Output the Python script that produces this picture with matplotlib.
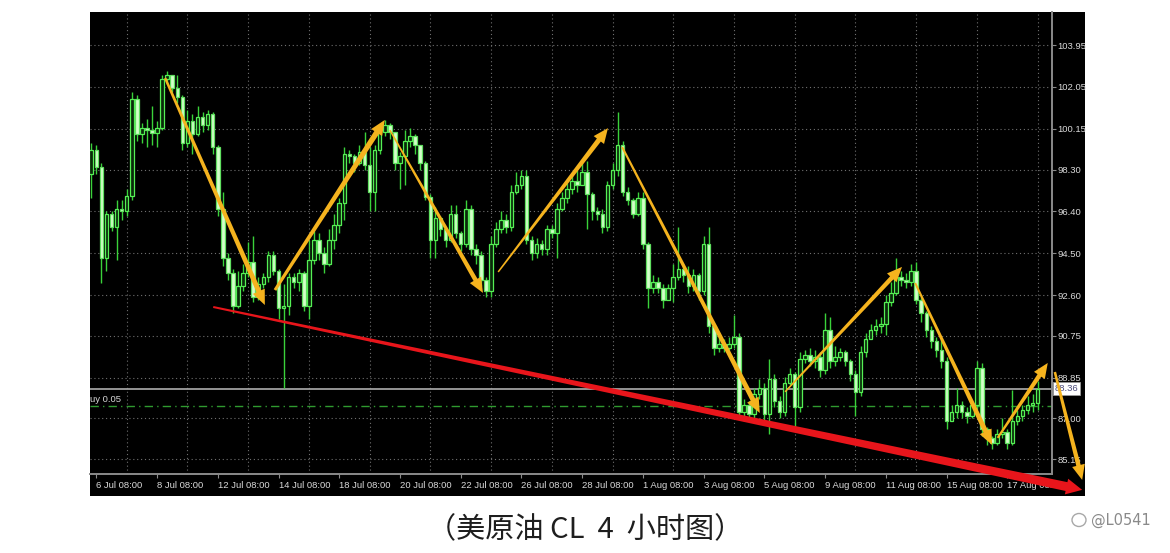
import matplotlib
matplotlib.use('Agg')
import matplotlib.pyplot as plt
import numpy as np
from matplotlib.patches import Polygon, Rectangle, Ellipse
from matplotlib.transforms import IdentityTransform

W, H = 1170, 553

# CL 4h candles, bar 0 = 6 Jul 04:00, open of bar n = close of bar n-1
first_open = 98.1
close = [99.2, 98.4, 94.3, 96.3, 95.7, 96.5, 96.4, 97.1, 101.5, 99.9,
         100.2, 100.1, 99.95, 100.2, 102.4, 102.6, 102.0, 101.6, 99.5, 100.5,
         99.9, 100.7, 100.3, 100.8, 99.3, 96.5, 94.3, 93.6, 92.1, 93.0,
         93.6, 94.1, 92.5, 93.1, 93.4, 94.4, 93.7, 92.0, 92.1, 93.4,
         93.2, 93.6, 92.1, 94.2, 95.1, 94.5, 94.0, 95.1, 95.8, 96.8,
         99.0, 98.9, 98.6, 99.1, 98.5, 97.3, 99.2, 100.0, 100.3, 100.0,
         98.6, 98.9, 99.6, 99.8, 99.4, 98.6, 97.05, 95.1, 96.1, 95.6,
         95.1, 96.3, 95.4, 94.9, 96.5, 94.7, 94.4, 93.3, 92.8, 94.9,
         95.6, 96.0, 95.7, 97.3, 97.6, 98.0, 95.1, 94.5, 94.9, 94.7,
         95.6, 95.4, 96.5, 97.0, 97.4, 97.8, 97.6, 98.2, 97.2, 96.4,
         96.3, 95.7, 97.6, 98.3, 99.4, 97.3, 96.9, 96.3, 97.0, 94.9,
         92.9, 93.2, 92.9, 92.4, 92.9, 93.4, 93.8, 93.5, 93.0, 93.5,
         92.8, 94.9, 91.2, 90.2, 90.4, 90.2, 90.4, 90.7, 87.3, 87.6,
         87.2, 88.1, 88.4, 87.2, 88.8, 87.8, 87.3, 88.6, 89.0, 87.5,
         89.7, 89.9, 89.6, 89.8, 89.2, 91.0, 89.6, 89.8, 90.0, 89.6,
         89.0, 88.2, 90.0, 90.6, 91.0, 91.2, 91.3, 92.3, 92.7, 93.4,
         93.3, 93.2, 93.7, 92.4, 91.8, 91.0, 90.5, 90.1, 89.6, 86.9,
         87.3, 87.6, 87.3, 87.1, 87.6, 89.3, 86.5, 86.1, 85.9, 86.3,
         86.4, 85.9, 86.9, 87.1, 87.4, 87.6, 87.7, 88.36]
high = [99.5, 99.4, 98.6, 96.4, 96.4, 96.9, 96.9, 97.4, 101.8, 101.7,
        100.4, 100.6, 101.2, 100.5, 102.6, 102.75, 102.4, 102.6, 101.7, 101.0,
        100.8, 101.2, 100.9, 101.0, 100.9, 99.4, 97.3, 94.5, 93.8, 93.7,
        94.0, 95.0, 95.3, 93.4, 93.6, 94.6, 94.6, 93.8, 93.1, 93.6,
        93.6, 93.8, 93.7, 95.1, 95.5, 95.4, 94.8, 95.6, 96.3, 97.0,
        99.3, 99.2, 99.0, 99.4, 100.0, 99.3, 99.4, 100.3, 100.55, 100.4,
        99.9, 99.1, 100.1, 100.2, 99.9, 99.4, 98.7, 97.2, 96.6, 96.2,
        95.7, 96.7, 96.7, 95.5, 96.9, 96.7, 94.9, 94.6, 93.4, 95.3,
        95.9, 96.4, 96.3, 97.6, 98.2, 98.3, 98.3, 95.3, 95.2, 95.1,
        95.8, 95.8, 96.8, 97.3, 97.7, 98.1, 98.3, 98.6, 98.7, 97.3,
        96.6, 96.5, 97.8, 98.6, 100.9, 99.6, 97.5, 97.0, 97.3, 97.3,
        95.0, 93.5, 93.4, 93.1, 93.1, 94.0, 95.7, 94.0, 93.9, 93.8,
        93.6, 95.3, 95.7, 91.3, 90.8, 90.6, 90.7, 91.7, 90.9, 87.9,
        87.8, 88.4, 88.8, 88.6, 89.7, 89.0, 88.0, 88.9, 89.3, 89.1,
        90.0, 90.1, 90.2, 90.1, 90.0, 91.8, 91.6, 90.3, 90.2, 90.1,
        89.7, 89.2, 90.3, 90.9, 91.3, 91.5, 91.6, 92.6, 93.2, 94.3,
        93.7, 93.6, 94.0, 94.1, 92.6, 91.9, 91.2, 90.7, 90.6, 89.8,
        87.6, 88.4, 87.8, 87.5, 87.8, 89.6, 89.5, 86.6, 86.2, 86.5,
        87.0, 86.5, 88.3, 87.4, 87.6, 88.0, 88.1, 88.7]
low = [97.0, 98.1, 93.15, 93.7, 95.5, 94.2, 96.0, 96.2, 96.9, 99.6,
       99.5, 99.3, 99.4, 99.3, 100.1, 102.2, 101.8, 101.3, 99.2, 99.3,
       99.0, 99.8, 100.0, 100.1, 99.0, 96.2, 93.9, 93.3, 91.8, 92.0,
       92.8, 93.4, 92.3, 92.4, 92.9, 93.2, 93.5, 91.5, 88.4, 91.7,
       92.9, 92.8, 91.9, 91.5, 94.0, 94.2, 93.6, 93.9, 94.7, 95.4,
       96.0, 98.6, 98.2, 98.5, 98.3, 96.4, 96.4, 99.0, 99.8, 99.7,
       98.3, 97.4, 97.6, 99.3, 99.0, 98.3, 96.9, 94.3, 94.3, 95.3,
       94.8, 95.0, 95.2, 94.6, 94.8, 94.4, 94.0, 93.0, 92.5, 92.5,
       94.8, 95.4, 95.4, 95.5, 97.2, 97.4, 94.9, 94.2, 94.3, 94.4,
       94.4, 95.2, 94.3, 96.4, 96.8, 97.2, 97.3, 97.7, 95.6, 96.0,
       96.0, 95.4, 95.5, 97.4, 98.0, 97.1, 96.7, 96.1, 96.2, 94.7,
       92.0, 92.7, 92.7, 92.0, 92.5, 92.3, 93.3, 93.2, 92.7, 92.8,
       92.4, 92.6, 90.9, 89.9, 90.0, 90.0, 90.1, 90.2, 87.0, 86.9,
       86.9, 87.0, 87.9, 86.8, 86.3, 87.5, 87.0, 87.1, 88.5, 86.6,
       87.3, 89.5, 89.4, 89.3, 88.9, 89.0, 89.3, 89.4, 89.6, 89.4,
       88.7, 87.1, 88.0, 89.8, 90.6, 90.8, 90.9, 90.8, 92.1, 92.6,
       93.0, 92.9, 93.0, 92.2, 91.4, 90.7, 90.2, 89.8, 89.3, 86.5,
       86.9, 87.0, 87.0, 86.8, 87.0, 87.4, 86.2, 85.8, 85.6, 85.8,
       86.1, 85.6, 85.8, 86.7, 86.9, 87.2, 87.3, 87.4]

date_labels = ['6 Jul 08:00', '8 Jul 08:00', '12 Jul 08:00', '14 Jul 08:00',
               '18 Jul 08:00', '20 Jul 08:00', '22 Jul 08:00', '26 Jul 08:00',
               '28 Jul 08:00', '1 Aug 08:00', '3 Aug 08:00', '5 Aug 08:00',
               '9 Aug 08:00', '11 Aug 08:00', '15 Aug 08:00', '17 Aug 08:00']
label_bars = [1, 13, 25, 37, 49, 61, 73, 85, 97, 109, 121, 133, 145, 157, 169, 181]
price_ticks = [103.95, 102.05, 100.15, 98.30, 96.40, 94.50, 92.60, 90.75, 88.85, 87.00, 85.15]
bid = 88.36
buy_level = 87.55

# swing arrows (bar, price) -> (bar, price)
swings = [(14.6, 102.45, 34.3, 92.15), (36.3, 92.83, 58.0, 100.55),
          (59.0, 100.09, 77.4, 92.70), (80.4, 93.65, 102.1, 100.18),
          (104.9, 99.32, 132.1, 87.25), (137.1, 88.21, 160.2, 93.88),
          (162.8, 93.15, 178.0, 85.80), (179.1, 86.12, 189.0, 89.52),
          (190.4, 89.11, 195.8, 84.21)]
trend = (24.1, 92.06, 195.8, 83.76)

o = np.array([first_open] + close[:-1])
c = np.array(close)
hi = np.maximum(np.array(high), np.maximum(o, c))
lo = np.minimum(np.array(low), np.minimum(o, c))
x = np.arange(len(c))

fig = plt.figure(figsize=(W / 100, H / 100), dpi=100)
fig.patch.set_facecolor('white')
fig.add_artist(Rectangle((90 / W, 1 - 496 / H), (1085 - 90) / W, (496 - 12) / H,
                         transform=fig.transFigure, facecolor='black', edgecolor='none', zorder=-5))

ax = fig.add_axes([90 / W, 1 - 474 / H, (1052 - 90) / W, (474 - 12) / H])
ax.set_facecolor('black')
ax.set_xlim(-0.25, 189.84)
ax.set_ylim(84.48, 105.45)

for s in ['left', 'top']:
    ax.spines[s].set_visible(False)
for s in ['right', 'bottom']:
    ax.spines[s].set_color('#8a8a8a')
    ax.spines[s].set_linewidth(1.4)

lab_font = ['Liberation Sans Narrow', 'Liberation Sans']
ax.set_xticks(label_bars)
ax.set_xticklabels(date_labels, ha='left', fontsize=6.8, family=lab_font)
ax.set_xticks(np.arange(1, 190, 6), minor=True)
ax.yaxis.tick_right()
ax.set_yticks(price_ticks)
ax.set_yticklabels([f'{v:.2f}' for v in price_ticks], fontsize=6.8, family=lab_font)
ax.tick_params(axis='x', which='major', color='#8a8a8a', labelcolor='#dadada', length=3, pad=2)
ax.tick_params(axis='x', which='minor', length=0)
ax.tick_params(axis='y', color='#8a8a8a', labelcolor='#dadada', length=3, pad=1)
ax.grid(which='minor', axis='x', color='#707070', linestyle=(0, (1, 2.5)), lw=0.8)
ax.grid(which='major', axis='y', color='#707070', linestyle=(0, (1, 2.5)), lw=0.8)
ax.set_axisbelow(True)

# candles
up = c >= o
ax.vlines(x, lo, hi, color='#3ad23a', lw=1, zorder=2)
body = np.maximum(np.abs(c - o), 0.06)
ax.bar(x[up], body[up], bottom=o[up], width=0.7, facecolor='#0a2a0a',
       edgecolor='#55f055', lw=0.9, zorder=3)
ax.bar(x[~up], body[~up], bottom=c[~up], width=0.7, facecolor='#d4ffca',
       edgecolor='#60e060', lw=0.9, zorder=3)

# bid and order lines
ax.axhline(bid, color='#a0a0a0', lw=1.3, zorder=1)
ax.axhline(buy_level, color='#2f9a2f', lw=1, linestyle=(0, (6, 3, 1, 3)), zorder=1)
ax.text(0.0, buy_level + 0.1, 'uy 0.05', transform=ax.get_yaxis_transform(),
        fontsize=6.8, family=lab_font, color='#d6d6d6', va='bottom', ha='left')
ax.text(1.003, bid, f'{bid:.2f}', transform=ax.get_yaxis_transform(), fontsize=6.8,
        family=lab_font, color='#4a4a7a', va='center', ha='left', zorder=6,
        bbox=dict(facecolor='white', edgecolor='#9a9a9a', pad=1.2, lw=0.6), clip_on=False)


def taper_arrow(x0, y0, x1, y1, w0, w1, hl, hw, color):
    p0 = ax.transData.transform((x0, y0))
    p1 = ax.transData.transform((x1, y1))
    d = p1 - p0
    u = d / np.hypot(*d)
    n = np.array([-u[1], u[0]])
    b = p1 - u * hl
    pts = [p0 + n * w0 / 2, b + n * w1 / 2, b + n * hw / 2, p1,
           b - n * hw / 2, b - n * w1 / 2, p0 - n * w0 / 2]
    fig.add_artist(Polygon(pts, closed=True, transform=IdentityTransform(),
                           facecolor=color, edgecolor='none', zorder=5))


taper_arrow(*trend, 2, 9, 16, 16, '#e8151b')
widths = [(2.5, 5), (3, 5.5), (1.5, 4.5), (1.5, 5), (2, 5), (1.5, 4.5), (2, 5), (2, 4.5), (2.5, 4.5)]
for (x0, y0, x1, y1), (w0, w1) in zip(swings, widths):
    taper_arrow(x0, y0, x1, y1, w0, w1, 15, 13, '#f5b31e')

fig.text(585 / W, 1 - 530 / H, '（美原油 CL  4  小时图）', ha='center', va='center',
         fontsize=21, family=['Noto Sans CJK SC', 'DejaVu Sans'], color='#1e1e1e')
fig.add_artist(Ellipse((1079 / W, 1 - 520 / H), 14 / W, 13 / H, transform=fig.transFigure,
                       facecolor='none', edgecolor='#a8a8a8', lw=1))
fig.text(1091 / W, 1 - 520 / H, '@L0541', ha='left', va='center', fontsize=10.5,
         color='#8a8a8a', family=['DejaVu Sans'])

fig.savefig('out.png', dpi=100)
